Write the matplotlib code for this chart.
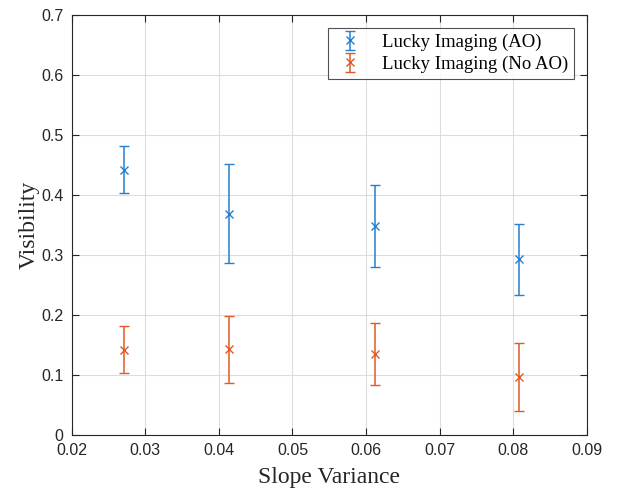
import numpy as np
import matplotlib.pyplot as plt

# slope variance (x) and visibility values
slope_var = [0.0271, 0.0414, 0.0612, 0.0807]

vis_ao = [0.442, 0.368, 0.349, 0.293]
ao_upper = [0.481, 0.451, 0.417, 0.351]
ao_lower = [0.403, 0.286, 0.280, 0.234]

vis_noao = [0.142, 0.143, 0.135, 0.096]
noao_upper = [0.181, 0.199, 0.186, 0.153]
noao_lower = [0.104, 0.087, 0.084, 0.040]

x_ticks = [0.02, 0.03, 0.04, 0.05, 0.06, 0.07, 0.08, 0.09]
y_ticks = [0, 0.1, 0.2, 0.3, 0.4, 0.5, 0.6, 0.7]

blue = '#2580cc'
orange = '#e05a25'

fig = plt.figure(figsize=(6.19, 4.91), dpi=100)
ax = fig.add_axes([71.6 / 619, 56 / 491, 515.4 / 619, 420 / 491])

x = np.array(slope_var)
for vals, up, lo, col, lab in [
    (vis_ao, ao_upper, ao_lower, blue, 'Lucky Imaging (AO)'),
    (vis_noao, noao_upper, noao_lower, orange, 'Lucky Imaging (No AO)'),
]:
    vals = np.array(vals)
    yerr = [vals - np.array(lo), np.array(up) - vals]
    ax.errorbar(x, vals, yerr=yerr, fmt='x', color=col, ecolor=col,
                elinewidth=1.1, capsize=3.6, capthick=1.1, markersize=5.5,
                markeredgewidth=1.0, label=lab)

ax.set_xlim(0.02, 0.09)
ax.set_ylim(0, 0.7)
ax.set_xticks(x_ticks)
ax.set_yticks(y_ticks)
ax.set_xticklabels([f'{v:g}' for v in x_ticks], fontfamily='Liberation Sans', fontsize=11.5)
ax.set_yticklabels([f'{v:g}' for v in y_ticks], fontfamily='Liberation Sans', fontsize=11.5)
ax.tick_params(direction='in', top=True, right=True, length=5, color='#262626',
               labelcolor='#262626', pad=6)
ax.grid(True, color='#dcdcdc', linewidth=0.8)
ax.set_axisbelow(True)
for s in ax.spines.values():
    s.set_color('#262626')
    s.set_linewidth(0.8)

ax.set_xlabel('Slope Variance', fontfamily='Liberation Serif', fontsize=17, color='#262626', labelpad=6)
ax.set_ylabel('Visibility', fontfamily='Liberation Serif', fontsize=17, color='#262626', labelpad=1)

leg = ax.legend(loc='upper right', prop={'family': 'Liberation Serif', 'size': 13.5},
                frameon=True, fancybox=False, edgecolor='#262626',
                borderaxespad=0.7, handlelength=1.8, handletextpad=0.8,
                borderpad=0.3, labelspacing=0.25)
leg.get_frame().set_linewidth(0.8)

fig.savefig('out.png', dpi=100)
